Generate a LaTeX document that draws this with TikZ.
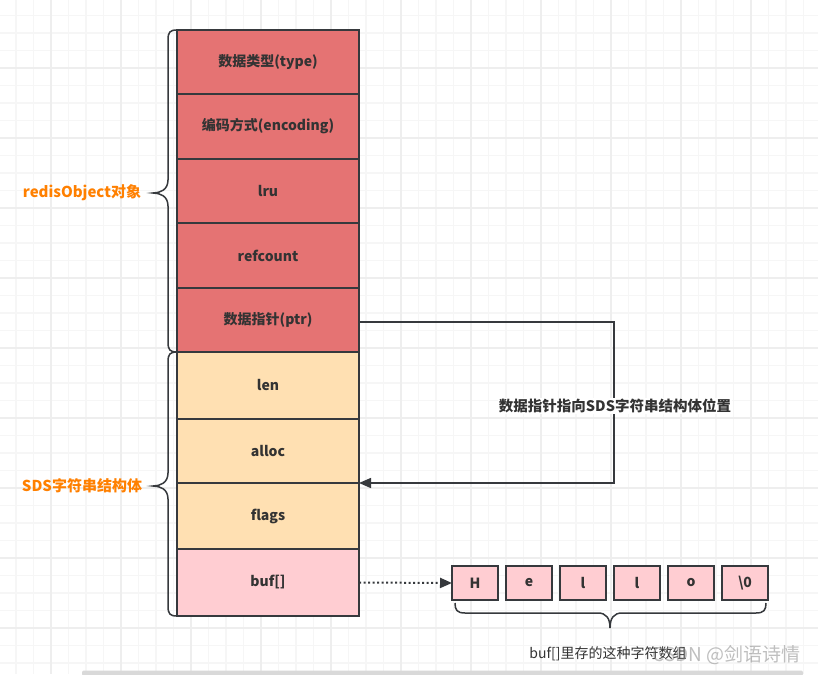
\documentclass[tikz,border=0pt]{standalone}
\usepackage{fontspec}
\setmainfont{Noto Sans CJK SC}
\usetikzlibrary{arrows.meta}
\definecolor{redfill}{RGB}{229,115,115}
\definecolor{peach}{RGB}{255,224,178}
\definecolor{pinkfill}{RGB}{255,205,210}
\definecolor{edge}{RGB}{54,57,61}
\definecolor{orangetxt}{RGB}{255,128,0}
\definecolor{gridminor}{RGB}{246,246,246}
\definecolor{gridmajor}{RGB}{238,238,238}
\definecolor{txt}{RGB}{51,51,51}
\tikzset{
  field/.style={draw=edge, line width=1.5pt, anchor=north west, minimum width=182pt,
    inner sep=0pt, outer sep=0pt, font=\fontsize{14}{16}\selectfont\bfseries, text=txt},
  charbox/.style={draw=edge, line width=1.5pt, fill=pinkfill, minimum width=46pt, minimum height=34pt,
    inner sep=0pt, outer sep=0pt, font=\fontsize{14}{16}\selectfont\bfseries, text=txt},
  bracket/.style={draw=edge, line width=1.5pt},
  sidelabel/.style={font=\fontsize{15}{17}\selectfont\bfseries, text=orangetxt},
  conn/.style={draw=edge, line width=1.5pt},
}
\begin{document}
\begin{tikzpicture}[x=1pt,y=-1pt]
\useasboundingbox (0,0) rectangle (818,674);
\fill[white] (0,0) rectangle (818,674);
% grid
\foreach \i in {0,...,47} {
  \pgfmathsetmacro{\gx}{-1.5+17.5*\i}
  \draw[gridminor, line width=1.2pt] (\gx,0) -- (\gx,674);
}
\foreach \j in {0,...,39} {
  \pgfmathsetmacro{\gy}{-2+17.5*\j}
  \draw[gridminor, line width=1.2pt] (0,\gy) -- (818,\gy);
}
\foreach \i in {0,...,11} {
  \pgfmathsetmacro{\gx}{51+70*(\i-1)}
  \draw[gridmajor, line width=1.4pt] (\gx,0) -- (\gx,674);
}
\foreach \j in {0,...,10} {
  \pgfmathsetmacro{\gy}{-2+70*\j}
  \draw[gridmajor, line width=1.4pt] (0,\gy) -- (818,\gy);
}
% fields
\node[field, fill=redfill, minimum height=64pt] (type) at (177,30) {数据类型(type)};
\node[field, fill=redfill, minimum height=65pt] (enc) at (177,94) {编码方式(encoding)};
\node[field, fill=redfill, minimum height=64pt] (lru) at (177,159) {lru};
\node[field, fill=redfill, minimum height=65pt] (ref) at (177,223) {refcount};
\node[field, fill=redfill, minimum height=64pt] (ptr) at (177,288) {数据指针(ptr)};
\node[field, fill=peach, minimum height=67pt] (len) at (177,352) {len};
\node[field, fill=peach, minimum height=64pt] (alloc) at (177,419) {alloc};
\node[field, fill=peach, minimum height=66pt] (flags) at (177,483) {flags};
\node[field, fill=pinkfill, minimum height=67pt] (buf) at (177,549) {buf[]};
% left braces
\draw[bracket] (177,30) .. controls (170,30) and (168,32) .. (168,40) -- (168,180)
  .. controls (168,190) and (160,193) .. (153,193)
  .. controls (160,193) and (168,196) .. (168,206) -- (168,342)
  .. controls (168,350) and (170,352) .. (177,352);
\draw[bracket] (177,352) .. controls (170,352) and (168,354) .. (168,362) -- (168,473)
  .. controls (168,483) and (160,486) .. (153,486)
  .. controls (160,486) and (168,489) .. (168,499) -- (168,606)
  .. controls (168,614) and (170,616) .. (177,616);
\node[sidelabel] (robj) at (82,193) {redisObject对象};
\node[sidelabel] (sds) at (82,486) {SDS字符串结构体};
% pointer connector
\coordinate (turn1) at (614,322);
\coordinate (turn2) at (614,483);
\draw[conn, -{Triangle[length=12pt,width=10pt]}] (ptr.east |- turn1) -- (turn1) -- (turn2) -- (alloc.south east);
\node[fill=white, inner sep=1pt, font=\fontsize{14.5}{16}\selectfont\bfseries, text=txt] (plabel) at (615,406) {数据指针指向SDS字符串结构体位置};
% char boxes
\node[charbox] (cH) at (475,583) {H};
\node[charbox] (ce) at (529,583) {e};
\node[charbox] (cl1) at (583,583) {l};
\node[charbox] (cl2) at (637,583) {l};
\node[charbox] (co) at (691,583) {o};
\node[charbox] (cz) at (745,583) {\textbackslash 0};
\draw[conn, line width=2pt, dash pattern=on 2pt off 2.5pt, -{Triangle[length=12pt,width=10pt]}] (buf.east) -- (cH.west);
% bottom brace
\draw[bracket] (455,603) .. controls (455,610) and (457,613) .. (465,613) -- (598,613)
  .. controls (606,613) and (610,618) .. (610,628)
  .. controls (610,618) and (614,613) .. (622,613) -- (756,613)
  .. controls (764,613) and (766,610) .. (766,603);
\node[font=\fontsize{14}{16}\selectfont, text=txt] (buflabel) at (608,654) {buf[]里存的这种字符数组};
\node[font=\fontsize{19}{21}\selectfont, text=gray, opacity=0.5, anchor=east] (wm) at (804,655) {CSDN @剑语诗情};
% bottom bar
\fill[gray!30, rounded corners=2pt] (82,670.5) rectangle (803,676);
\end{tikzpicture}
\end{document}
